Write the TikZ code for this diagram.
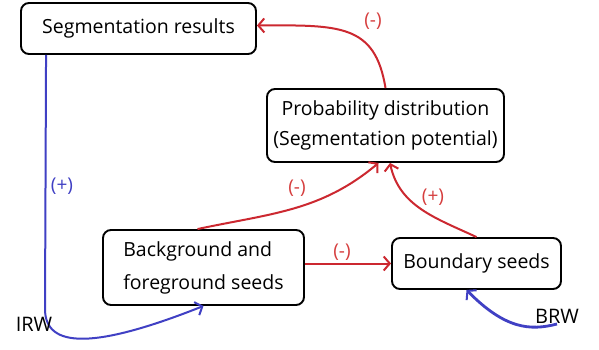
\documentclass[tikz,border=0pt]{standalone}
\usepackage{fontspec}
\setmainfont{Open Sans}
\usetikzlibrary{arrows.meta,calc}
\definecolor{edgered}{RGB}{204,40,48}
\definecolor{labred}{RGB}{214,62,62}
\definecolor{edgeblue}{RGB}{64,64,196}
\tikzset{
  box/.style={draw=black,line width=1.9pt,rounded corners=8pt,inner sep=0pt,font=\fontsize{19.5}{30}\selectfont},
  redline/.style={draw=edgered,line width=2pt,-{Straight Barb[length=6pt,width=14pt,line width=2pt]}},
  blueline/.style={draw=edgeblue,line width=2pt,-{Straight Barb[length=6pt,width=14pt,line width=2pt]}},
  redlab/.style={text=labred,font=\fontsize{19}{22}\selectfont},
  bluelab/.style={text=edgeblue,font=\fontsize{19}{22}\selectfont},
  blacklab/.style={text=black,font=\fontsize{20}{22}\selectfont},
}
\begin{document}
\begin{tikzpicture}[x=1pt,y=1pt]
\useasboundingbox (0,0) rectangle (599,349);
\fill[white] (0,0) rectangle (599,349);
\node[box,minimum width=235pt,minimum height=51pt] (seg) at (138.5,320.5) {Segmentation results};
\node[box,minimum width=237pt,minimum height=73pt,align=center] (prob) at (385.5,223.5) {Probability distribution\\(Segmentation potential)};
\node[box,minimum width=201pt,minimum height=75pt,align=left,font=\fontsize{19.5}{33}\selectfont] (bg) at (203.5,81.5) {Background and\\foreground seeds};
\node[box,minimum width=169pt,minimum height=51pt] (bound) at (476.5,85.5) {Boundary seeds};
% red edges
\draw[redline] (prob.north) .. controls (375,325) and (340,324) .. ([yshift=3pt]seg.east);
\node[redlab] (l1) at (373,328) {(-)};
\draw[redline] ([xshift=-6pt]bg.north) to[out=12,in=220] ([xshift=-7pt]prob.south);
\node[redlab] (l2) at (297,161) {(-)};
\draw[redline] (bound.north) to[out=155,in=-78] ([xshift=4.5pt]prob.south);
\node[redlab] (l3) at (433,152) {(+)};
\draw[redline] (bg.east |- bound.west) -- (bound.west);
\node[redlab] (l4) at (342,97) {(-)};
% blue edges
\coordinate (irwbend) at (45,40);
\draw[blueline] ([xshift=26pt]seg.south west) -- (irwbend) .. controls (45,0) and (95,0) .. (bg.south);
\node[bluelab] (l5) at (62,163) {(+)};
\node[blacklab] (irw) at (34,24.5) {IRW};
\node[blacklab] (brw) at (557,32.5) {BRW};
\coordinate (brwstart) at (557,25);
\draw[blueline,line width=2.8pt] (brwstart) .. controls (530,18) and (505,20) .. ([xshift=-10pt]bound.south);
\end{tikzpicture}
\end{document}
